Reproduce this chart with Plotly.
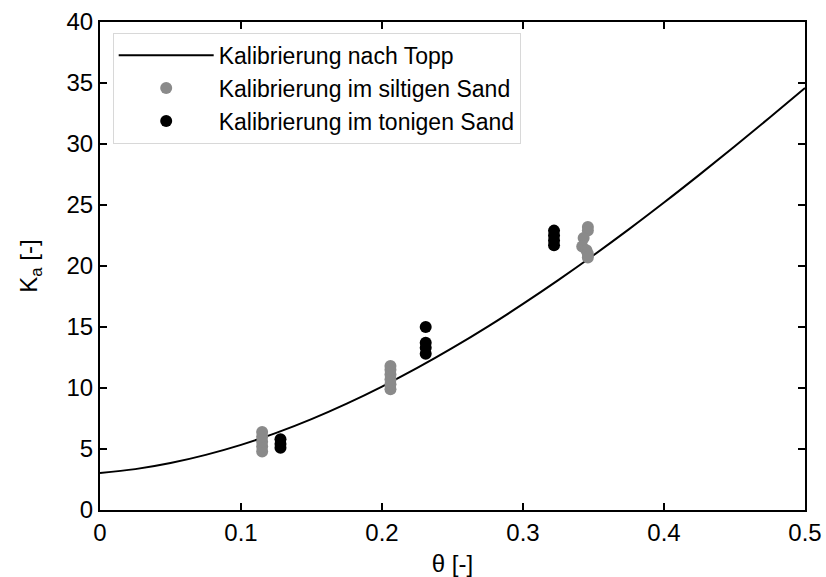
import plotly.graph_objects as go

# Topp calibration curve
topp_theta = [0, 0.025, 0.05, 0.075, 0.1, 0.125, 0.15, 0.175, 0.2, 0.225, 0.25,
              0.275, 0.3, 0.325, 0.35, 0.375, 0.4, 0.425, 0.45, 0.475, 0.5]
topp_ka = [3.03, 3.35, 3.85, 4.52, 5.34, 6.32, 7.45, 8.72, 10.12, 11.64, 13.28,
           15.03, 16.89, 18.84, 20.88, 23.00, 25.20, 27.47, 29.79, 32.17, 34.59]

# Siltiger Sand
silt_theta = [0.115, 0.115, 0.115, 0.115, 0.115,
              0.206, 0.206, 0.206, 0.206, 0.206, 0.206,
              0.346, 0.346, 0.343, 0.342, 0.345, 0.346, 0.346]
silt_ka = [4.8, 5.2, 5.6, 6.0, 6.4,
           9.9, 10.3, 10.7, 11.1, 11.5, 11.8,
           23.2, 22.9, 22.3, 21.6, 21.3, 21.0, 20.7]

# Toniger Sand
ton_theta = [0.128, 0.128, 0.128,
             0.231, 0.231, 0.231, 0.231,
             0.322, 0.322, 0.322, 0.322]
ton_ka = [5.1, 5.4, 5.8,
          12.8, 13.3, 13.7, 15.0,
          21.7, 22.1, 22.5, 22.9]

FONT = "Liberation Sans, Arial, sans-serif"

fig = go.Figure()
fig.add_trace(go.Scatter(x=topp_theta, y=topp_ka, mode="lines",
                         line=dict(color="black", width=2, shape="spline"),
                         name="Kalibrierung nach Topp"))
fig.add_trace(go.Scatter(x=silt_theta, y=silt_ka, mode="markers",
                         marker=dict(color="#8a8a8a", size=12), name="Kalibrierung im siltigen Sand"))
fig.add_trace(go.Scatter(x=ton_theta, y=ton_ka, mode="markers",
                         marker=dict(color="black", size=12), name="Kalibrierung im tonigen Sand"))

axis_common = dict(showline=True, linecolor="black", linewidth=2, mirror="ticks", ticks="inside",
                   ticklen=7, tickwidth=1.5, tickcolor="black", showgrid=False, zeroline=False,
                   automargin=False,
                   tickfont=dict(family=FONT, size=24, color="black"))

fig.update_layout(
    width=826, height=577,
    margin=dict(l=100, r=21, t=22, b=67),
    plot_bgcolor="white", paper_bgcolor="white",
    font=dict(family=FONT, color="black", size=24),
    xaxis=dict(range=[0, 0.5], tickvals=[0, 0.1, 0.2, 0.3, 0.4, 0.5],
               ticktext=["0", "0.1", "0.2", "0.3", "0.4", "0.5"],
               title=dict(text="θ [-]", font=dict(family=FONT, size=24, color="black"), standoff=12),
               **axis_common),
    yaxis=dict(range=[0, 40], tickvals=[0, 5, 10, 15, 20, 25, 30, 35, 40],
               ticktext=["0", "5", "10", "15", "20", "25", "30", "35", "40"],
               title=dict(text="K<sub>a</sub> [-]", font=dict(family=FONT, size=24, color="black"), standoff=22),
               **axis_common),
    legend=dict(x=0.018, y=0.978, xanchor="left", yanchor="top", bgcolor="white",
                bordercolor="#d8d8d8", borderwidth=1,
                font=dict(family=FONT, size=23, color="black"),
                itemwidth=95, tracegroupgap=0),
    showlegend=True,
)

fig.write_html("out.html")
